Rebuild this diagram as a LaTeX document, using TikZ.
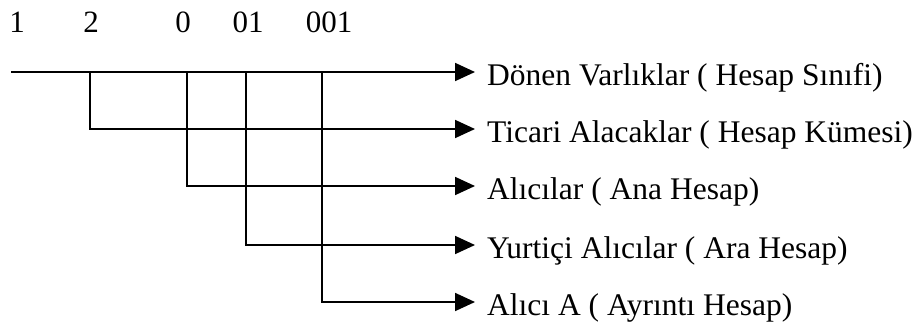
\documentclass[tikz,border=0pt]{standalone}
\usepackage{fontspec}
\setmainfont{Liberation Serif}
\usetikzlibrary{arrows.meta}
\begin{document}
\begin{tikzpicture}[x=1pt,y=-1pt,
  conn/.style={line width=1.8pt,line join=miter},
  arr/.style={conn,-{Triangle[length=20pt,width=18pt]}},
  lbl/.style={anchor=west,inner xsep=12pt,inner ysep=0pt,text height=26pt,text depth=0pt,font=\fontsize{31.5}{36}\selectfont},
  dig/.style={anchor=base,inner sep=0pt,font=\fontsize{31}{36}\selectfont}]
\useasboundingbox (0,0) rectangle (915,327);
% top digits
\node[dig] (d1) at (17,32) {1};
\node[dig] (d2) at (91,32) {2};
\node[dig] (d3) at (183,32) {0};
\node[dig] (d4) at (248,32) {01};
\node[dig] (d5) at (329,32) {001};
% labels
\node[lbl] (t1) at (475,72) {Dönen Varlıklar ( Hesap Sınıfi)};
\node[lbl] (t2) at (475,129) {Ticari Alacaklar ( Hesap Kümesi)};
\node[lbl] (t3) at (475,186) {Alıcılar ( Ana Hesap)};
\node[lbl] (t4) at (475,245) {Yurtiçi Alıcılar ( Ara Hesap)};
\node[lbl] (t5) at (475,302) {Alıcı A ( Ayrıntı Hesap)};
% branch points
\coordinate (s) at (11,72);
\coordinate (b2) at (90,72);
\coordinate (b3) at (187,72);
\coordinate (b4) at (246,72);
\coordinate (b5) at (322,72);
% connectors
\draw[arr] (s) -- (t1.west);
\draw[arr] (b2) |- (t2.west);
\draw[arr] (b3) |- (t3.west);
\draw[arr] (b4) |- (t4.west);
\draw[arr] (b5) |- (t5.west);
\end{tikzpicture}
\end{document}
